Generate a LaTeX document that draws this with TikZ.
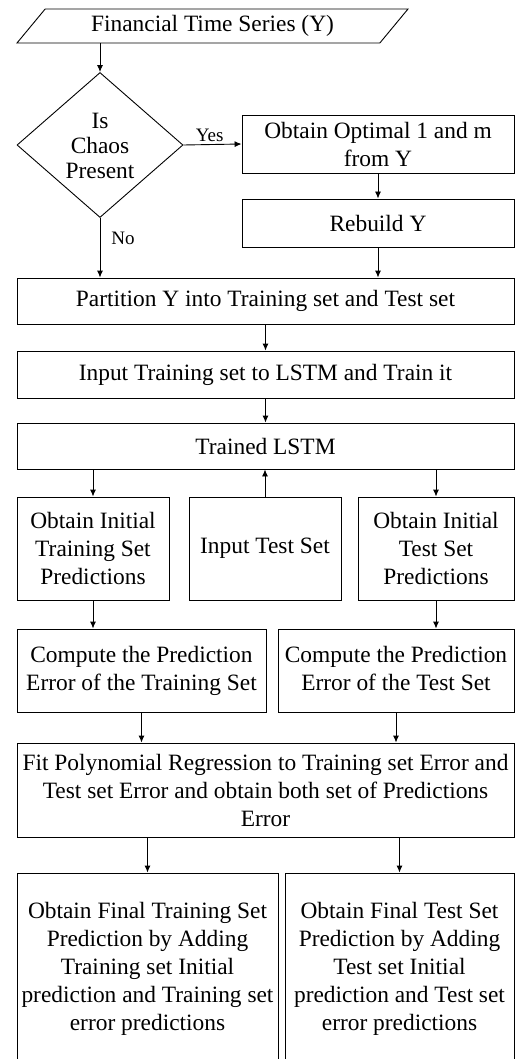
\documentclass[tikz,border=0pt]{standalone}
\usepackage{fontspec}
\setmainfont{Liberation Serif}
\usetikzlibrary{shapes,arrows,arrows.meta,positioning,calc}

\tikzset{
  box/.style={draw, rectangle, line width=0.9pt, align=center, inner sep=2pt},
  flow/.style={draw, line width=0.9pt, -{Latex[length=7pt,width=6pt]}},
  lbl/.style={font=\fontsize{19}{22}\selectfont, inner sep=2pt},
}

\begin{document}
\begin{tikzpicture}[x=1pt, y=-1pt, font=\fontsize{23.4}{28}\selectfont]
\useasboundingbox (0,0) rectangle (515,1059);
\clip (0,0) rectangle (515,1059);

% Eingangsdaten
\node[trapezium, trapezium left angle=37, trapezium right angle=143, trapezium stretches body,
      draw, line width=0.9pt, minimum width=391pt, minimum height=34pt, inner sep=0pt] (series) at (212.5,26) {Financial Time Series (Y)};

% Chaos-Test
\node[diamond, draw, line width=0.9pt, minimum width=166pt, minimum height=145pt, inner sep=-2pt, align=center,
      font=\fontsize{23.4}{25}\selectfont] (chaos) at (100,145) {\\[-8pt]Is\\Chaos\\Present};

% Rekonstruktion
\node[box, minimum width=272pt, minimum height=58pt] (optim) at (378,144) {Obtain Optimal 1 and m\\from Y};
\node[box, minimum width=272pt, minimum height=48pt] (rebuild) at (378,223) {Rebuild Y};

% Aufteilung und Training
\node[box, minimum width=497pt, minimum height=46pt] (split) at (265.5,301) {Partition Y into Training set and Test set};
\node[box, minimum width=497pt, minimum height=47pt] (train) at (265.5,374.5) {Input Training set to LSTM and Train it};
\node[box, minimum width=497pt, minimum height=46pt] (lstm) at (265.5,446) {Trained LSTM};

% Erste Vorhersagen
\node[box, minimum width=152pt, minimum height=103pt] (trainpred) at (93,548.5) {Obtain Initial\\Training Set\\Predictions};
\node[box, minimum width=152pt, minimum height=103pt] (testin) at (265,548.5) {Input Test Set};
\node[box, minimum width=156pt, minimum height=103pt] (testpred) at (436,548.5) {Obtain Initial\\Test Set\\Predictions};

% Fehler
\node[box, minimum width=249pt, minimum height=83pt] (trainerr) at (141.5,670.5) {Compute the Prediction\\Error of the Training Set};
\node[box, minimum width=236pt, minimum height=83pt] (testerr) at (396,670.5) {Compute the Prediction\\Error of the Test Set\vphantom{g}};

% Polynom-Regression
\node[box, minimum width=497pt, minimum height=94pt] (polyfit) at (265.5,790) {Fit Polynomial Regression to Training set Error and\\Test set Error and obtain both set of Predictions\\Error};

% Endergebnis
\node[box, minimum width=261pt, minimum height=192pt] (trainfinal) at (147.5,969) {Obtain Final Training Set\\Prediction by Adding\\Training set Initial\\prediction and Training set\\error predictions};
\node[box, minimum width=229pt, minimum height=192pt] (testfinal) at (399.5,969) {Obtain Final Test Set\\Prediction by Adding\\Test set Initial\\prediction and Test set\\error predictions};

% Verbindungen
\draw[flow] (series.south -| chaos.north) -- (chaos.north);
\draw[flow] (chaos.east) -- node[lbl, above, pos=0.45] {Yes} (optim.west);
\draw[flow] (optim.south) -- (rebuild.north);
\draw[flow] (chaos.south) -- node[lbl, right, pos=0.35, xshift=9pt] {No} (chaos.south |- split.north);
\draw[flow] (rebuild.south) -- (rebuild.south |- split.north);
\draw[flow] (split.south) -- (train.north);
\draw[flow] (train.south) -- (lstm.north);
\draw[flow] (lstm.south -| trainpred.north) -- (trainpred.north);
\draw[flow] (testin.north) -- (testin.north |- lstm.south);
\draw[flow] (lstm.south -| testpred.north) -- (testpred.north);
\draw[flow] (trainpred.south) -- (trainpred.south |- trainerr.north);
\draw[flow] (testpred.south) -- (testpred.south |- testerr.north);
\draw[flow] (trainerr.south) -- (trainerr.south |- polyfit.north);
\draw[flow] (testerr.south) -- (testerr.south |- polyfit.north);
\draw[flow] (polyfit.south -| trainfinal.north) -- (trainfinal.north);
\draw[flow] (polyfit.south -| testfinal.north) -- (testfinal.north);
\end{tikzpicture}
\end{document}
